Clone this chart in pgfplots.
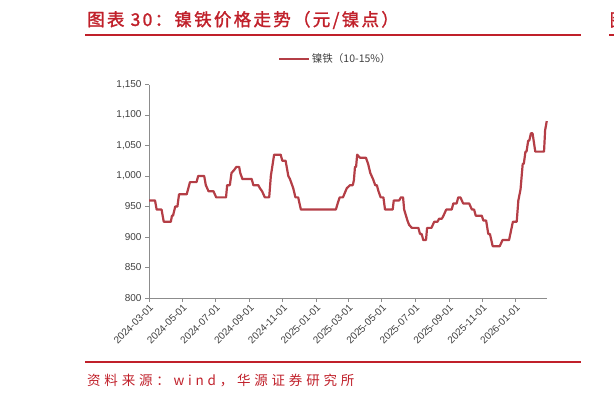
\documentclass[border=0pt]{standalone}
\usepackage{fontspec}
\usepackage{pgfplots}
\pgfplotsset{compat=1.18}
\setmainfont{Liberation Sans}
\newfontfamily\cjk{Noto Sans CJK SC}
\newfontfamily\cjktitle[FakeBold=1.5,LetterSpace=13]{Noto Sans CJK SC}
\newfontfamily\cjksrc[LetterSpace=28]{Noto Sans CJK SC}

\definecolor{hyred}{RGB}{192,32,42}
\definecolor{nife}{RGB}{180,62,70}
\definecolor{axgray}{RGB}{140,140,140}
\definecolor{txtgray}{RGB}{64,64,64}

\begin{document}
\begin{tikzpicture}[x=1pt,y=-1pt]
\useasboundingbox (0,0) rectangle (614,400);

% title and rules
\node[anchor=west, inner sep=0, text=hyred] at (87,20)
  {\cjktitle\fontsize{17.5}{19}\selectfont 图表 30：镍铁价格走势（元/镍点）};
\draw[hyred, line width=2pt] (85,34.7) -- (581,34.7);
\draw[hyred, line width=2pt] (609,34.7) -- (620,34.7);
\node[anchor=west, inner sep=0, text=hyred] at (609.5,20)
  {\cjktitle\fontsize{17.5}{19}\selectfont 图};
\draw[hyred, line width=1.6pt] (85,361.7) -- (581,361.7);
\node[anchor=west, inner sep=0, text=hyred] at (87,380)
  {\cjksrc\fontsize{13.5}{15}\selectfont 资料来源：wind，华源证券研究所};

\begin{axis}[
  at={(149pt,-298pt)}, anchor=south west,
  scale only axis,
  width=398.3pt, height=213.5pt,
  xmin=0, xmax=729,
  ymin=800, ymax=1150,
  ytick distance=50,
  xtick={0,61,122,184,245,306,365,426,487,549,610,671},
  xticklabels={2024-03-01,2024-05-01,2024-07-01,2024-09-01,2024-11-01,2025-01-01,2025-03-01,2025-05-01,2025-07-01,2025-09-01,2025-11-01,2026-01-01},
  axis x line=bottom, axis y line=left,
  axis line style={axgray, line width=0.9pt, -},
  tick align=outside,
  major tick length=4pt,
  tick style={axgray, line width=0.8pt},
  every tick label/.append style={text=txtgray, font=\fontsize{10}{12}\selectfont},
  xticklabel style={rotate=45, anchor=north east, inner sep=1pt},
  /pgf/number format/assume math mode=true,
  /pgf/number format/1000 sep={,},
  legend style={at={(rel axis cs:0.324,1.121)}, anchor=west, draw=none, fill=none,
    inner sep=0pt, font=\cjk\fontsize{10.5}{12}\selectfont, text=txtgray,
    nodes={inner sep=1.5pt}},
  legend image code/.code={\draw[#1] (0pt,0pt) -- (30pt,0pt);},
  clip=false,
]
\addplot[nife, line width=2.2pt, line join=round] table {
  d    v
  0    960
  11   960
  14   945
  23   945
  27   925
  40   925
  42   935
  44   935
  48   950
  52   950
  55   970
  69   970
  72   980
  75   990
  87   990
  90   1000
  101  1000
  104  985
  109  975
  118  975
  123  965
  141  965
  143  985
  148  985
  151  1005
  156  1010
  160  1015
  165  1015
  167  1005
  171  995
  188  995
  191  985
  200  985
  203  980
  207  975
  212  965
  220  965
  223  1000
  229  1035
  241  1035
  244  1025
  250  1025
  255  1000
  258  995
  264  980
  268  965
  273  965
  278  945
  342  945
  346  957
  349  965
  355  965
  362  980
  368  985
  373  985
  375  993
  377  1015
  379  1015
  381  1035
  386  1030
  397  1030
  401  1020
  405  1005
  410  995
  414  985
  417  985
  420  975
  424  965
  429  965
  432  945
  446  945
  448  960
  458  960
  461  965
  465  965
  467  945
  473  927
  476  920
  481  915
  493  915
  496  905
  499  905
  502  895
  507  895
  509  915
  517  915
  522  925
  528  925
  531  930
  536  930
  539  935
  544  945
  554  945
  557  955
  563  955
  566  965
  570  965
  575  955
  586  955
  591  945
  595  945
  598  935
  609  935
  612  927
  617  927
  621  905
  624  905
  629  885
  642  885
  647  895
  659  895
  666  925
  673  925
  676  960
  680  978
  684  1020
  686  1020
  689  1040
  691  1040
  694  1058
  696  1058
  699  1070
  702  1070
  707  1040
  723  1040
  725  1075
  728  1090
};
\addlegendentry{镍铁（10-15\%）}
\end{axis}
\end{tikzpicture}
\end{document}
